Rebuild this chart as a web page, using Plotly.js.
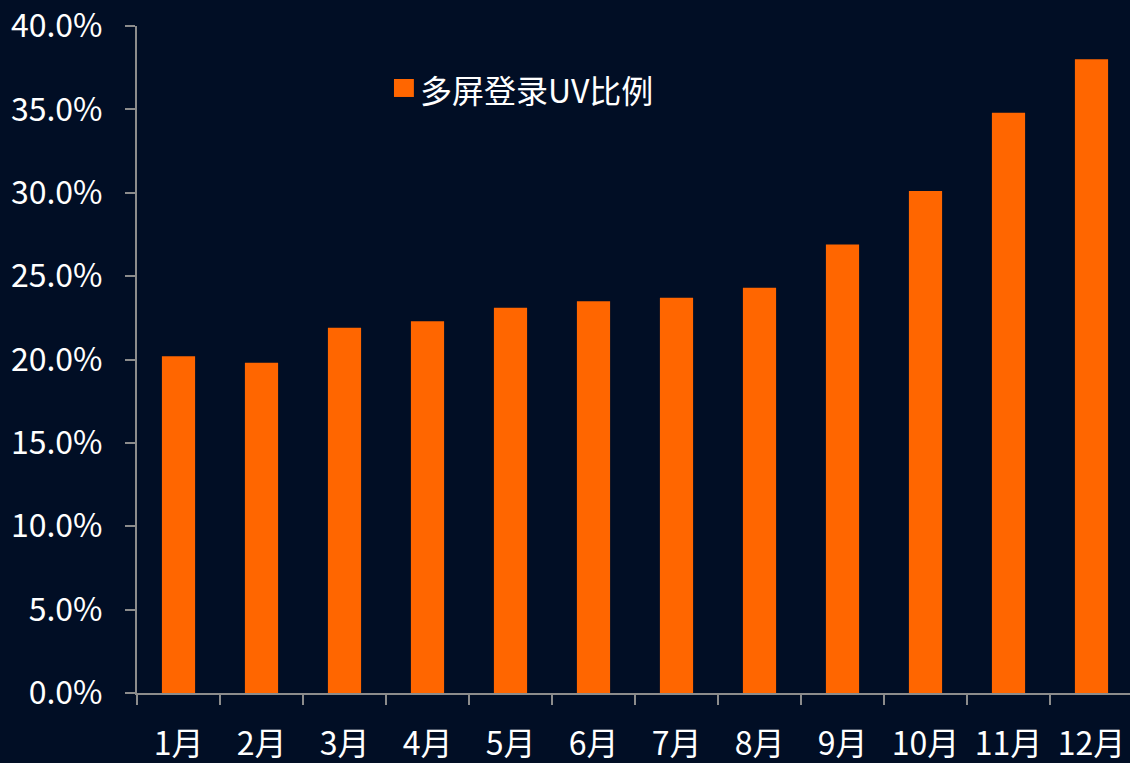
<!DOCTYPE html>
<html>
<head>
<meta charset="utf-8">
<script src="https://cdn.plot.ly/plotly-3.0.1.min.js"></script>
<style>
  html, body { margin: 0; padding: 0; background: #010e25; overflow: hidden; }
  #chart { width: 1133px; height: 763px; }
</style>
</head>
<body>
<div id="chart"></div>
<script>
const months = ['1月', '2月', '3月', '4月', '5月', '6月', '7月', '8月', '9月', '10月', '11月', '12月'];
const uvRatio = [0.202, 0.198, 0.219, 0.223, 0.231, 0.235, 0.237, 0.243, 0.269, 0.301, 0.348, 0.380];
const yTicks = [0, 0.05, 0.10, 0.15, 0.20, 0.25, 0.30, 0.35, 0.40];
const seriesName = '多屏登录UV比例';

const font = '"Noto Sans CJK SC", "Noto Sans", sans-serif';
const orange = '#ff6600';
const axisGrey = '#8c8c8c';

const trace = {
  x: months,
  y: uvRatio,
  type: 'bar',
  name: seriesName,
  marker: { color: orange },
  showlegend: false
};

// legend drawn by hand so the swatch can be as big as in the original
const layout = {
  width: 1133,
  height: 763,
  margin: { l: 137, r: 0, t: 26, b: 70 },
  paper_bgcolor: '#010e25',
  plot_bgcolor: '#010e25',
  font: { family: font, color: '#ffffff', size: 32 },
  bargap: 0.6,
  shapes: [{
    type: 'rect', xref: 'paper', yref: 'paper',
    x0: 0.258, x1: 0.278, y0: 0.8936, y1: 0.9205,
    fillcolor: orange, line: { width: 0 }
  }],
  annotations: [{
    text: seriesName, xref: 'paper', yref: 'paper',
    x: 0.282, y: 0.9055, xanchor: 'left', yanchor: 'middle',
    showarrow: false,
    font: { family: font, size: 32, color: '#ffffff' }
  }],
  xaxis: {
    type: 'category',
    showline: true, linecolor: axisGrey, linewidth: 2,
    ticks: 'outside', tickson: 'boundaries', ticklen: 10, tickcolor: axisGrey, tickwidth: 2,
    ticklabelstandoff: 22,
    showgrid: false, zeroline: false,
    tickfont: { family: font, size: 32, color: '#ffffff' }
  },
  yaxis: {
    range: [0, 0.4],
    tickvals: yTicks,
    tickformat: '.1%',
    showline: true, linecolor: axisGrey, linewidth: 2,
    ticks: 'outside', ticklen: 10, tickcolor: axisGrey, tickwidth: 2,
    ticklabelstandoff: 16,
    showgrid: false, zeroline: false,
    tickfont: { family: font, size: 32, color: '#ffffff' }
  }
};

Plotly.newPlot('chart', [trace], layout, { displayModeBar: false, staticPlot: true });
</script>
</body>
</html>
